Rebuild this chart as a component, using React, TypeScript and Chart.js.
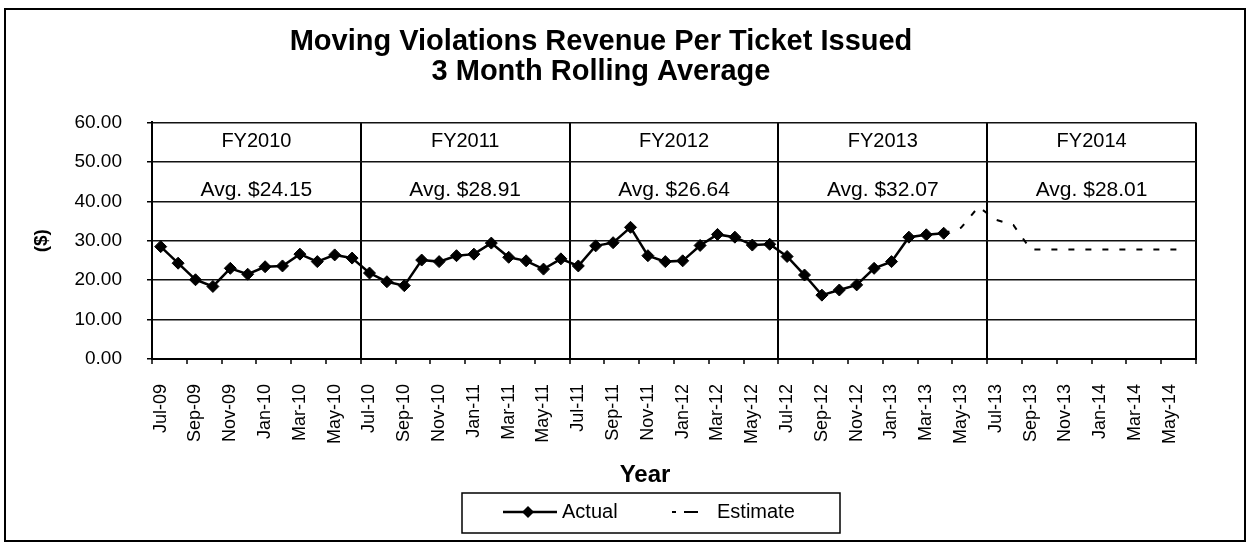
import React, { useEffect, useRef } from 'react';
import { Chart, registerables } from 'chart.js';

Chart.register(...registerables);

const FONT = "Arial, 'Liberation Sans', Helvetica, sans-serif";

const months = [
  'Jul-09', 'Aug-09', 'Sep-09', 'Oct-09', 'Nov-09', 'Dec-09', 'Jan-10', 'Feb-10', 'Mar-10', 'Apr-10', 'May-10', 'Jun-10',
  'Jul-10', 'Aug-10', 'Sep-10', 'Oct-10', 'Nov-10', 'Dec-10', 'Jan-11', 'Feb-11', 'Mar-11', 'Apr-11', 'May-11', 'Jun-11',
  'Jul-11', 'Aug-11', 'Sep-11', 'Oct-11', 'Nov-11', 'Dec-11', 'Jan-12', 'Feb-12', 'Mar-12', 'Apr-12', 'May-12', 'Jun-12',
  'Jul-12', 'Aug-12', 'Sep-12', 'Oct-12', 'Nov-12', 'Dec-12', 'Jan-13', 'Feb-13', 'Mar-13', 'Apr-13', 'May-13', 'Jun-13',
  'Jul-13', 'Aug-13', 'Sep-13', 'Oct-13', 'Nov-13', 'Dec-13', 'Jan-14', 'Feb-14', 'Mar-14', 'Apr-14', 'May-14', 'Jun-14',
];

const actual = [
  28.5, 24.3, 20.1, 18.4, 23.0, 21.5, 23.4, 23.6, 26.6, 24.7, 26.4, 25.6,
  21.8, 19.6, 18.6, 25.1, 24.7, 26.2, 26.6, 29.4, 25.8, 24.9, 22.8, 25.4,
  23.6, 28.7, 29.5, 33.4, 26.2, 24.7, 24.9, 28.8, 31.6, 30.9, 28.9, 29.1,
  26.0, 21.3, 16.2, 17.5, 18.8, 23.0, 24.7, 30.9, 31.5, 31.9, null, null,
  null, null, null, null, null, null, null, null, null, null, null, null,
];

const estimate = [
  null, null, null, null, null, null, null, null, null, null, null, null,
  null, null, null, null, null, null, null, null, null, null, null, null,
  null, null, null, null, null, null, null, null, null, null, null, null,
  null, null, null, null, null, null, null, null, null, 31.9, 33.3, 38.6,
  35.3, 34.0, 27.8, 27.8, 27.8, 27.8, 27.8, 27.8, 27.8, 27.8, 27.8, 27.8,
];

const fiscalYears = ['FY2010', 'FY2011', 'FY2012', 'FY2013', 'FY2014'];
const averages = ['Avg. $24.15', 'Avg. $28.91', 'Avg. $26.64', 'Avg. $32.07', 'Avg. $28.01'];

const FY_LABEL_VALUE = 53.8;
const AVG_LABEL_VALUE = 41.3;

const overlayPlugin = {
  id: 'overlay',
  afterDraw(chart: any) {
    const { ctx, chartArea, scales } = chart;
    const x = scales.x;
    const y = scales.y;
    ctx.save();
    ctx.fillStyle = '#000';
    ctx.textAlign = 'center';
    ctx.textBaseline = 'alphabetic';
    fiscalYears.forEach((fy, i) => {
      const s = i * 12;
      const cx = (x.getPixelForValue(s + 5) + x.getPixelForValue(s + 6)) / 2;
      ctx.font = `20px ${FONT}`;
      ctx.fillText(fy, cx, y.getPixelForValue(FY_LABEL_VALUE));
      ctx.font = `21px ${FONT}`;
      ctx.fillText(averages[i], cx, y.getPixelForValue(AVG_LABEL_VALUE));
    });

    // x-axis title
    ctx.font = `bold 24px ${FONT}`;
    ctx.textBaseline = 'middle';
    ctx.fillText('Year', chart.width / 2 + 20, chartArea.bottom + 116);

    // legend
    const bx = chart.width / 2 - 163;
    const by = chartArea.bottom + 134;
    const bw = 378;
    const bh = 40;
    ctx.strokeStyle = '#000';
    ctx.lineWidth = 1.5;
    ctx.strokeRect(bx, by, bw, bh);
    const cy = by + bh / 2 - 1;
    // Actual
    ctx.beginPath();
    ctx.lineWidth = 2.5;
    ctx.moveTo(bx + 41, cy);
    ctx.lineTo(bx + 95, cy);
    ctx.stroke();
    ctx.beginPath();
    const dx = bx + 66;
    ctx.moveTo(dx - 6, cy);
    ctx.lineTo(dx, cy - 6);
    ctx.lineTo(dx + 6, cy);
    ctx.lineTo(dx, cy + 6);
    ctx.closePath();
    ctx.fill();
    // Estimate
    ctx.beginPath();
    ctx.lineWidth = 2;
    ctx.setLineDash([4, 8, 14, 20]);
    ctx.moveTo(bx + 210, cy);
    ctx.lineTo(bx + 240, cy);
    ctx.stroke();
    ctx.setLineDash([]);
    ctx.textAlign = 'left';
    ctx.font = `20px ${FONT}`;
    ctx.fillText('Actual', bx + 100, cy);
    ctx.fillText('Estimate', bx + 255, cy);
    ctx.restore();
  },
};

export default function App() {
  const canvasRef = useRef<HTMLCanvasElement | null>(null);

  useEffect(() => {
    if (!canvasRef.current) return;
    Chart.defaults.font.family = FONT;
    Chart.defaults.color = '#000';
    const tickIdx = (c: any) => (c.type === 'tick' ? c.index : months.length);
    const chart = new Chart(canvasRef.current, {
      type: 'line',
      data: {
        labels: months,
        datasets: [
          {
            label: 'Actual',
            data: actual,
            borderColor: '#000',
            backgroundColor: '#000',
            borderWidth: 2.5,
            pointStyle: 'rectRot',
            pointRadius: 6,
            pointBorderWidth: 1,
            pointBackgroundColor: '#000',
            pointBorderColor: '#000',
            tension: 0,
            spanGaps: false,
          },
          {
            label: 'Estimate',
            data: estimate,
            borderColor: '#000',
            borderWidth: 2,
            borderDash: [6, 11],
            pointRadius: 0,
            tension: 0,
          },
        ],
      },
      options: {
        responsive: false,
        animation: false,
        layout: { padding: { left: 0, right: 48, top: 0, bottom: 81 } },
        plugins: {
          legend: { display: false },
          tooltip: { enabled: false },
          title: {
            display: true,
            text: ['Moving Violations Revenue Per Ticket Issued', '3 Month Rolling Average'],
            color: '#000',
            font: { family: FONT, size: 29, weight: 'bold', lineHeight: 1.03 },
            padding: { top: 17, bottom: 35.7 },
          },
        },
        scales: {
          x: {
            type: 'category',
            offset: true,
            grid: {
              offset: true,
              drawTicks: true,
              tickLength: 5,
              color: (c: any) => (tickIdx(c) % 12 === 0 ? '#000' : 'rgba(0,0,0,0)'),
              lineWidth: (c: any) => (tickIdx(c) % 12 === 0 ? 2 : 0),
              tickColor: (c: any) => (tickIdx(c) % 2 === 0 ? '#000' : 'rgba(0,0,0,0)'),
              tickWidth: (c: any) => (tickIdx(c) % 2 === 0 ? 1.5 : 0),
            },
            border: { display: true, color: '#000', width: 2 },
            ticks: {
              autoSkip: false,
              maxRotation: 90,
              minRotation: 90,
              padding: 20,
              color: '#000',
              font: { family: FONT, size: 18 },
              callback: (_v: any, i: number) => (i % 2 === 0 ? months[i] : ''),
            },
            afterFit: (s: any) => {
              s.height = 100;
            },
          },
          y: {
            min: 0,
            max: 60,
            grid: {
              color: '#111',
              lineWidth: 1.5,
              tickLength: 5,
              tickColor: '#000',
            },
            border: { display: true, color: '#000', width: 2 },
            ticks: {
              stepSize: 10,
              padding: 25,
              color: '#000',
              font: { family: FONT, size: 19 },
              callback: (v: any) => Number(v).toFixed(2),
            },
            title: {
              display: true,
              text: '($)',
              color: '#000',
              font: { family: FONT, size: 19, weight: 'bold' },
              padding: { top: 24, bottom: 0 },
            },
            afterFit: (s: any) => {
              s.width = 146;
            },
          },
        },
      },
      plugins: [overlayPlugin],
    });
    return () => chart.destroy();
  }, []);

  return (
    <div
      style={{
        position: 'absolute',
        left: 4,
        top: 8,
        width: 1242,
        height: 534,
        border: '2px solid #000',
        boxSizing: 'border-box',
        background: '#fff',
      }}
    >
      <canvas ref={canvasRef} width={1238} height={530} style={{ display: 'block' }} />
    </div>
  );
}
